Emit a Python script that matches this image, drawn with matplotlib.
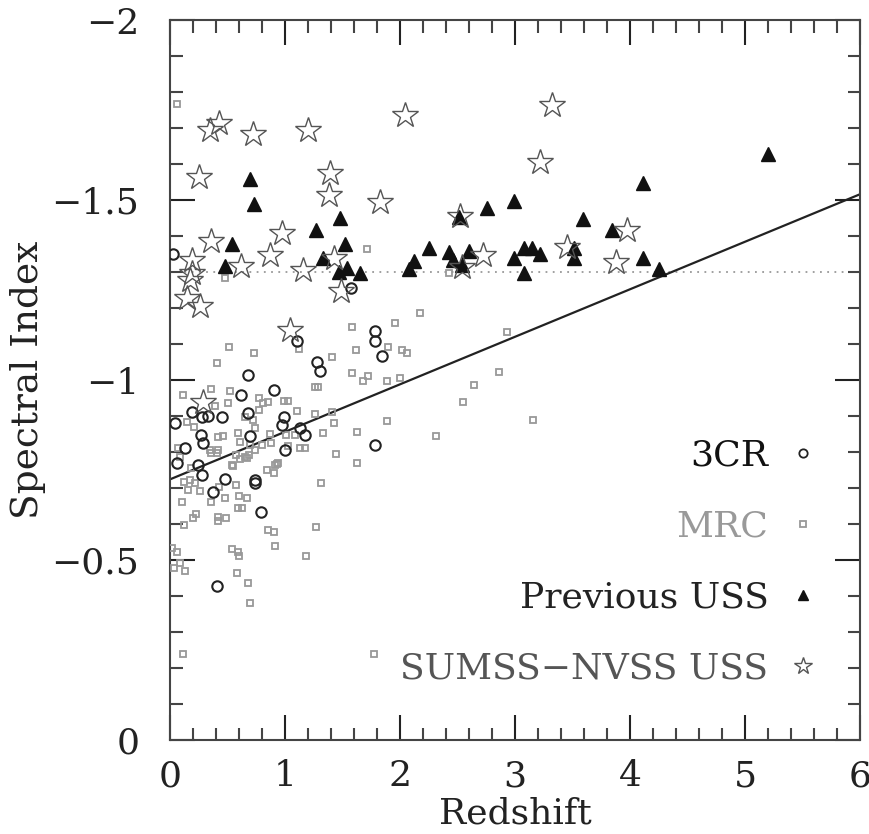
import numpy as np
import matplotlib
matplotlib.use("Agg")
import matplotlib.pyplot as plt
from matplotlib.lines import Line2D
from matplotlib.ticker import MultipleLocator, FuncFormatter

# ---------- data ----------
# 3CR radio galaxies (redshift, spectral index)
cr3_z = [0.03, 1.57, 1.78, 1.78, 1.10, 1.84, 1.28, 1.30, 0.68, 0.90, 0.62, 0.19,
         0.28, 0.33, 0.45, 0.68, 0.99, 0.04, 0.97, 1.13, 1.17, 0.27, 0.29, 0.70,
         0.13, 1.00, 1.78, 0.06, 0.24, 0.28, 0.48, 0.74, 0.74, 0.37, 0.79, 0.41]
cr3_a = [-1.35, -1.255, -1.137, -1.109, -1.109, -1.068, -1.051, -1.025, -1.014,
         -0.972, -0.958, -0.912, -0.898, -0.900, -0.898, -0.909, -0.898, -0.880,
         -0.875, -0.866, -0.847, -0.847, -0.826, -0.844, -0.810, -0.806, -0.819,
         -0.770, -0.764, -0.736, -0.725, -0.722, -0.715, -0.690, -0.632, -0.428]

# MRC sources
mrc_z = [0.06, 1.71, 0.48, 2.43, 1.58, 1.96, 2.17, 2.93, 0.51, 0.73, 0.41, 1.12,
         1.41, 1.62, 1.90, 2.02, 2.06, 1.58, 1.72, 1.68, 1.89, 2.00, 1.26, 1.29,
         2.86, 2.64, 2.55, 3.16, 2.31, 0.11, 0.36, 0.52, 0.39, 0.50, 0.145, 0.21,
         0.77, 0.81, 0.85, 0.99, 1.03, 0.65, 0.72, 0.77, 1.10, 1.26, 1.41, 1.43,
         1.89, 0.74, 0.42, 0.46, 0.59, 0.61, 0.87, 1.01, 1.09, 1.33, 1.63, 0.07,
         0.42, 0.35, 0.70, 0.80, 0.88, 0.74, 1.03, 1.13, 1.17, 1.44, 0.36, 0.41,
         0.57, 0.65, 0.09, 0.69, 0.55, 0.93, 1.63, 0.18, 0.84, 0.90, 0.91, 0.94,
         0.54, 0.61, 0.67, 0.12, 0.17, 0.22, 0.16, 0.26, 0.43, 0.57, 1.31, 0.60,
         0.67, 0.48, 0.36, 0.10, 0.59, 0.63, 0.23, 0.20, 0.42, 0.42, 0.49, 0.12,
         0.85, 0.90, 1.27, 0.91, 0.54, 0.59, 0.60, 1.18, 0.06, 0.015, 0.09, 0.035,
         0.13, 0.58, 0.68, 0.70, 0.11, 1.77]
mrc_a = [-1.767, -1.364, -1.282, -1.298, -1.146, -1.159, -1.185, -1.134, -1.093,
         -1.076, -1.046, -1.085, -1.065, -1.083, -1.091, -1.083, -1.076, -1.020,
         -1.011, -0.998, -0.998, -1.005, -0.981, -0.981, -1.021, -0.986, -0.940,
         -0.889, -0.844, -0.958, -0.974, -0.970, -0.928, -0.935, -0.884, -0.870,
         -0.949, -0.937, -0.940, -0.943, -0.943, -0.898, -0.889, -0.918, -0.915,
         -0.905, -0.912, -0.880, -0.886, -0.868, -0.843, -0.845, -0.852, -0.829,
         -0.850, -0.847, -0.847, -0.852, -0.855, -0.810, -0.806, -0.806, -0.819,
         -0.819, -0.824, -0.806, -0.817, -0.810, -0.810, -0.794, -0.796, -0.796,
         -0.792, -0.785, -0.785, -0.792, -0.762, -0.768, -0.770, -0.755, -0.750,
         -0.741, -0.764, -0.769, -0.764, -0.781, -0.782, -0.718, -0.722, -0.713,
         -0.694, -0.692, -0.704, -0.707, -0.713, -0.679, -0.671, -0.671, -0.662,
         -0.662, -0.644, -0.644, -0.627, -0.616, -0.620, -0.608, -0.618, -0.597,
         -0.583, -0.577, -0.593, -0.540, -0.530, -0.523, -0.511, -0.511, -0.523,
         -0.532, -0.491, -0.477, -0.470, -0.463, -0.437, -0.380, -0.238, -0.238]

# previously known USS sources
uss_z = [0.70, 0.73, 0.54, 0.48, 1.48, 1.27, 1.52, 1.33, 1.47, 1.54, 1.65, 2.08,
         2.12, 2.51, 2.76, 2.99, 4.11, 3.59, 3.84, 2.25, 2.43, 2.46, 2.54, 2.60,
         2.99, 3.08, 3.15, 3.22, 3.08, 3.51, 3.51, 4.11, 5.20, 4.25]
uss_a = [-1.557, -1.488, -1.378, -1.317, -1.449, -1.417, -1.378, -1.338, -1.301,
         -1.310, -1.298, -1.307, -1.330, -1.454, -1.477, -1.498, -1.546, -1.446,
         -1.417, -1.368, -1.356, -1.333, -1.320, -1.359, -1.338, -1.368, -1.368,
         -1.350, -1.298, -1.366, -1.338, -1.338, -1.628, -1.307]

# SUMSS-NVSS USS sample
sn_z = [0.35, 0.43, 0.72, 1.20, 2.04, 3.32, 0.25, 3.22, 1.39, 1.38, 1.83, 0.36,
        0.97, 0.87, 0.62, 0.19, 0.19, 0.17, 0.145, 0.26, 1.16, 1.43, 1.49, 1.04,
        0.29, 2.52, 2.72, 3.45, 3.97, 3.88, 2.54]
sn_a = [-1.694, -1.715, -1.683, -1.694, -1.736, -1.764, -1.565, -1.606, -1.576,
        -1.514, -1.495, -1.386, -1.407, -1.347, -1.317, -1.333, -1.296, -1.278,
        -1.227, -1.206, -1.306, -1.338, -1.248, -1.139, -0.940, -1.456, -1.347,
        -1.370, -1.417, -1.329, -1.315]

# linear fit and USS cut
fit_intercept = -0.724
fit_slope = -0.132
uss_cut = -1.3

labels = ["3CR", "MRC", "Previous USS", "SUMSS\u2212NVSS USS"]
label_colors = ["#111111", "#999999", "#222222", "#555555"]

# ---------- plot ----------
plt.rcParams['font.family'] = ['DejaVu Serif']

fig = plt.figure(figsize=(8.7, 8.34), dpi=100)
ax = fig.add_axes([170 / 870, 94 / 834, 690 / 870, 720 / 834])

ax.axhline(uss_cut, color='#999999', lw=1.3, linestyle=(0, (1, 3)), zorder=1)

zfit = np.array([0, 6])
ax.plot(zfit, fit_intercept + fit_slope * zfit, color='#222222', lw=1.6, zorder=2)

ax.plot(mrc_z, mrc_a, ls='none', marker='s', ms=5, mfc='none', mec='#999999',
        mew=1.3, zorder=3)
ax.plot(cr3_z, cr3_a, ls='none', marker='o', ms=7.5, mfc='none', mec='#222222',
        mew=1.5, zorder=4)
ax.plot(uss_z, uss_a, ls='none', marker='^', ms=10, mfc='#111111', mec='#111111',
        mew=1, zorder=5)
ax.plot(sn_z, sn_a, ls='none', marker='*', ms=19, mfc='none', mec='#555555',
        mew=1.0, zorder=6)

ax.set_xlim(0, 6)
ax.set_ylim(0, -2)

ax.xaxis.set_major_locator(MultipleLocator(1))
ax.xaxis.set_minor_locator(MultipleLocator(0.2))
ax.yaxis.set_major_locator(MultipleLocator(0.5))
ax.yaxis.set_minor_locator(MultipleLocator(0.1))
ax.yaxis.set_major_formatter(FuncFormatter(
    lambda v, p: "0" if v == 0 else ("\u2212" + f"{abs(v):g}")))

ax.tick_params(which='both', direction='in', top=True, right=True,
               color='#444444', width=1.5)
ax.tick_params(which='major', length=18, labelsize=26, colors='#222222')
ax.tick_params(which='minor', length=9)
ax.tick_params(axis='y', which='major', pad=22)
ax.tick_params(axis='x', which='major', pad=14)
for s in ax.spines.values():
    s.set_linewidth(1.5)
    s.set_color('#444444')

ax.set_xlabel("Redshift", fontsize=26, color='#222222', labelpad=2)
ax.set_ylabel("Spectral Index", fontsize=27, color='#222222', labelpad=4)

handles = [
    Line2D([], [], ls='none', marker='o', ms=6, mfc='none', mec='#222222', mew=1.3),
    Line2D([], [], ls='none', marker='s', ms=5, mfc='none', mec='#999999', mew=1.3),
    Line2D([], [], ls='none', marker='^', ms=7, mfc='#111111', mec='#111111'),
    Line2D([], [], ls='none', marker='*', ms=13, mfc='none', mec='#555555', mew=1.0),
]
leg = ax.legend(handles, labels, loc='lower right', bbox_to_anchor=(0.985, 0.03),
                markerfirst=False, frameon=False, fontsize=26,
                labelspacing=1.03, handlelength=0.8, handletextpad=0.55,
                labelcolor=label_colors)

fig.savefig("out.png", dpi=100)
